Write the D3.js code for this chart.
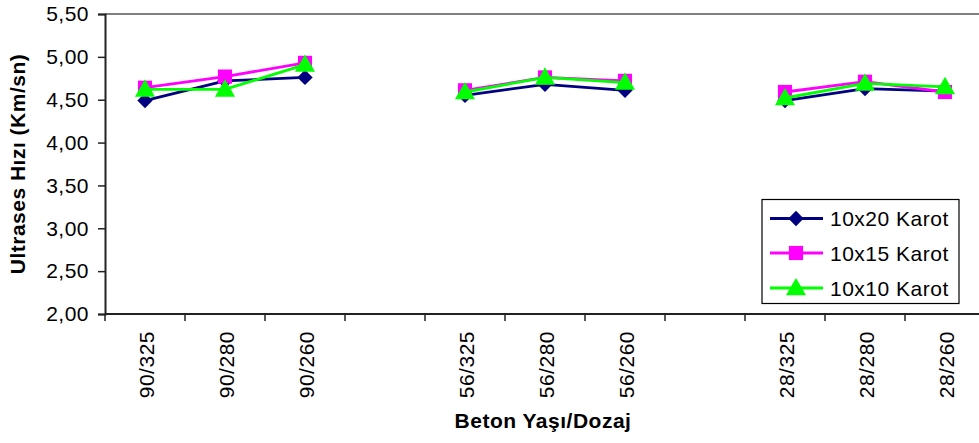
<!DOCTYPE html>
<html><head><meta charset="utf-8">
<script src="https://cdn.jsdelivr.net/npm/d3@7"></script>
<style>
html,body{margin:0;padding:0;background:#fff;overflow:hidden;}
text{font-family:"Liberation Sans",Arial,sans-serif;fill:#000;letter-spacing:0.5px;}
</style></head>
<body>
<svg id="chart" width="979" height="443"></svg>
<script>
const categories = ["90/325","90/280","90/260","","56/325","56/280","56/260","","28/325","28/280","28/260"];
const seriesNames = ["10x20 Karot","10x15 Karot","10x10 Karot"];
const karot10x20 = [4.49,4.72,4.76,null,4.55,4.68,4.61,null,4.49,4.63,4.60];
const karot10x15 = [4.64,4.77,4.93,null,4.61,4.76,4.72,null,4.59,4.71,4.59];
const karot10x10 = [4.62,4.62,4.91,null,4.59,4.76,4.70,null,4.52,4.69,4.65];
const yTicks = [2.0,2.5,3.0,3.5,4.0,4.5,5.0,5.5];
const xTitle = "Beton Yaşı/Dozaj";
const yTitle = "Ultrases Hızı (Km/sn)";

const colors = ["#000080","#FF00FF","#00FF00"];
const shapes = [d3.symbolSquare, d3.symbolSquare, d3.symbolTriangle];
const symSizes = [118, 200, 175];
const rotations = [45, 0, 0];
const series = [karot10x20, karot10x15, karot10x10];

const svg = d3.select("#chart");
const L = 105, R = 985, T = 14, B = 314;
const x = d3.scaleBand().domain(d3.range(categories.length)).range([L, R]).padding(0);
const y = d3.scaleLinear().domain([2, 5.5]).range([B, T]);

// plot border (top, gray)
svg.append("line").attr("x1", L).attr("x2", R).attr("y1", T).attr("y2", T)
  .attr("stroke", "#808080").attr("stroke-width", 2);
svg.append("line").attr("x1", R).attr("x2", R).attr("y1", T).attr("y2", B)
  .attr("stroke", "#808080").attr("stroke-width", 2);

// Y axis
const yAxis = d3.axisLeft(y).tickValues(yTicks).tickSize(7).tickPadding(9)
  .tickFormat(d => d3.format(".2f")(d).replace(".", ","));
const gy = svg.append("g").attr("transform", `translate(${L},0)`).call(yAxis);
gy.select(".domain").attr("stroke", "#222").attr("stroke-width", 2);
gy.selectAll(".tick line").attr("stroke", "#222").attr("stroke-width", 1.5);
gy.selectAll(".tick text").style("font-size", "21px").attr("fill", "#000");

// X axis with ticks at band boundaries
const gx = svg.append("g").attr("transform", `translate(0,${B})`);
gx.append("line").attr("x1", L).attr("x2", R).attr("stroke", "#222").attr("stroke-width", 2);
gx.selectAll(".bt").data(d3.range(categories.length + 1)).enter().append("line")
  .attr("x1", i => L + i * x.bandwidth()).attr("x2", i => L + i * x.bandwidth())
  .attr("y1", 0).attr("y2", 7).attr("stroke", "#222").attr("stroke-width", 1.5);
gx.selectAll(".lab").data(categories).enter().append("text")
  .attr("transform", (d, i) => `translate(${x(i) + x.bandwidth() / 2 + 1},17) rotate(-90)`)
  .attr("text-anchor", "end").attr("dy", "0.36em")
  .style("font-size", "21px").text(d => d);

// series lines & markers
series.forEach((vals, si) => {
  const pts = vals.map((v, i) => ({ i, v }));
  const line = d3.line().defined(p => p.v != null)
    .x(p => x(p.i) + x.bandwidth() / 2).y(p => y(p.v));
  svg.append("path").datum(pts).attr("d", line).attr("fill", "none")
    .attr("stroke", colors[si]).attr("stroke-width", 2.8);
  svg.selectAll(".m" + si).data(pts.filter(p => p.v != null)).enter().append("path")
    .attr("d", d3.symbol().type(shapes[si]).size(symSizes[si]))
    .attr("transform", p => `translate(${x(p.i) + x.bandwidth() / 2},${y(p.v) + (si === 2 ? 1.5 : 0)}) rotate(${rotations[si]})`)
    .attr("fill", colors[si]);
});

// axis titles
svg.append("text").attr("x", (L + R) / 2 - 2).attr("y", 428)
  .attr("text-anchor", "middle").style("font-size", "21px").style("font-weight", "bold").text(xTitle);
svg.append("text").attr("transform", `translate(25,${(T + B) / 2}) rotate(-90)`)
  .attr("text-anchor", "middle").style("font-size", "21px").style("font-weight", "bold").text(yTitle);

// legend
const lg = svg.append("g");
lg.append("rect").attr("x", 762).attr("y", 199.5).attr("width", 197).attr("height", 104)
  .attr("fill", "#fff").attr("stroke", "#000").attr("stroke-width", 1.2);
const rowY = [218.5, 253, 288];
seriesNames.forEach((name, si) => {
  lg.append("line").attr("x1", 770).attr("x2", 823).attr("y1", rowY[si]).attr("y2", rowY[si])
    .attr("stroke", colors[si]).attr("stroke-width", 2.8);
  lg.append("path").attr("d", d3.symbol().type(shapes[si]).size(symSizes[si]))
    .attr("transform", `translate(796,${rowY[si] + (si === 2 ? 1.5 : 0)}) rotate(${rotations[si]})`).attr("fill", colors[si]);
  lg.append("text").attr("x", 830).attr("y", rowY[si]).attr("dy", "0.36em")
    .style("font-size", "21px").text(name);
});
</script>
</body></html>
